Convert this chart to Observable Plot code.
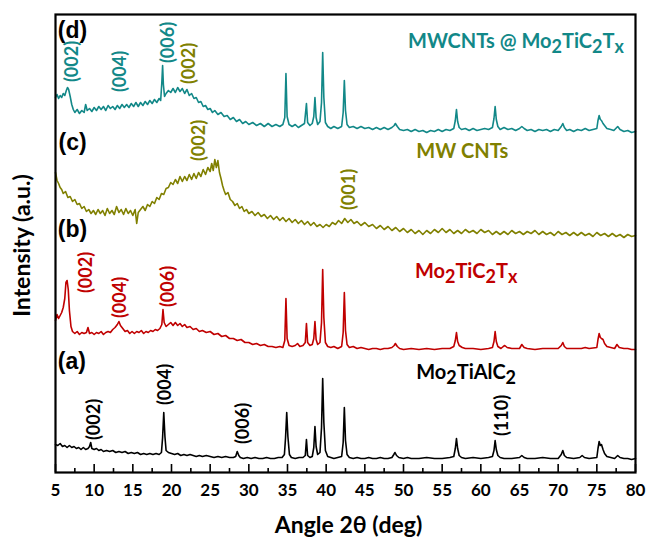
<!DOCTYPE html>
<html><head><meta charset="utf-8">
<script src="https://cdn.jsdelivr.net/npm/d3@7"></script>
<script src="https://cdn.jsdelivr.net/npm/@observablehq/plot@0.6"></script>
<style>body{margin:0;background:#fff} svg{display:block}</style>
</head><body><div id="chart"></div>
<script>
// (a) Mo2TiAlC2 — [2θ, intensity (a.u., stacked)]
const traceA = [[5,28],[5.3,27],[5.6,29],[5.9,26],[6.2,27],[6.5,25],[6.8,27],[7.1,25],[7.4,26],[7.7,24],[8,25],[8.3,23],[8.6,25],[8.9,23],[9.2,24],[9.4,26],[9.55,30],[9.7,24],[10,23],[10.3,24],[10.6,22],[10.9,23],[11.2,21],[11.6,22],[12,21],[12.4,22],[12.8,20],[13.2,21],[13.6,20],[14,21],[14.4,19],[14.8,20],[15.2,19],[15.6,20],[16,18],[16.4,19],[16.8,18],[17.2,19],[17.6,18],[18,19],[18.4,18],[18.7,20],[18.85,35],[19.0,60],[19.15,36],[19.3,22],[19.6,20],[20,19],[20.4,18],[20.8,19],[21.2,17],[21.6,18],[22,17],[22.4,18],[22.8,17],[23.2,16],[23.6,17],[24,16],[24.5,17],[25,16],[25.5,15],[26,16],[26.5,15],[27,16],[27.5,15],[28,15],[28.3,16],[28.5,21],[28.7,17],[28.9,15],[29.3,14],[29.8,15],[30.3,14],[30.8,15],[31.3,14],[31.8,14],[32.3,15],[32.8,14],[33.3,14],[33.8,15],[34.3,15],[34.6,18],[34.75,35],[34.9,60],[35.05,36],[35.25,18],[35.5,15],[36,14],[36.5,15],[37,15],[37.3,17],[37.45,33],[37.6,17],[37.9,15],[38.2,16],[38.4,25],[38.55,46],[38.7,26],[38.9,18],[39.2,20],[39.4,45],[39.55,94],[39.7,50],[39.9,22],[40.2,16],[40.6,15],[41,14],[41.5,15],[42,16],[42.2,30],[42.35,65],[42.5,32],[42.7,18],[43,15],[43.5,14],[44,15],[44.5,14],[45,14],[45.5,15],[46,14],[46.5,14],[47,15],[47.5,14],[48,14],[48.5,15],[48.75,18],[48.9,20],[49.1,17],[49.4,15],[50,14],[50.5,15],[51,14],[52,14],[53,15],[54,14],[55,14],[56,15],[56.5,16],[56.7,24],[56.85,34],[57.0,24],[57.2,17],[57.5,15],[58,14],[59,15],[60,14],[61,15],[61.5,16],[61.7,22],[61.85,32],[62.0,23],[62.2,17],[62.5,15],[63,14],[64,14],[65,15],[65.3,17],[65.6,15],[66,14],[67,14],[68,15],[69,14],[70,14],[70.4,18],[70.6,22],[70.8,17],[71.1,15],[72,14],[72.8,15],[73.1,17],[73.4,15],[74,14],[75,15],[75.15,24],[75.3,31],[75.45,27],[75.6,28],[75.8,23],[76,19],[76.3,16],[76.8,15],[77.3,14],[77.7,17],[78,15],[78.5,14],[79,14],[79.5,13],[80,14]];

// (b) Mo2TiC2Tx
const traceB = [[5,152],[5.2,158],[5.4,154],[5.6,157],[5.8,160],[6.0,165],[6.2,174],[6.35,190],[6.5,192],[6.65,183],[6.8,162],[7.0,146],[7.2,141],[7.5,139],[7.8,141],[8.1,138],[8.4,140],[8.7,139],[9.0,140],[9.2,145],[9.4,139],[9.7,140],[10,138],[10.3,140],[10.6,139],[10.9,141],[11.2,138],[11.5,140],[11.8,141],[12.1,140],[12.4,143],[12.7,145],[13,148],[13.2,151],[13.4,147],[13.7,144],[14,141],[14.3,142],[14.6,139],[14.9,141],[15.2,139],[15.5,141],[15.8,140],[16.1,142],[16.4,139],[16.7,141],[17,140],[17.3,142],[17.6,141],[17.9,143],[18.2,142],[18.5,144],[18.75,148],[18.9,163],[19.05,150],[19.3,146],[19.6,148],[19.9,150],[20.2,147],[20.5,150],[20.8,147],[21.1,149],[21.4,146],[21.7,148],[22,145],[22.4,146],[22.8,143],[23.2,144],[23.6,141],[24,142],[24.5,140],[25,141],[25.5,138],[26,139],[26.5,136],[27,137],[27.5,134],[28,134],[28.5,132],[29,133],[29.5,130],[30,130],[30.5,128],[31,129],[31.5,127],[32,128],[32.5,126],[33,126],[33.5,125],[34,126],[34.4,125],[34.65,132],[34.8,174],[34.95,134],[35.2,127],[35.6,126],[36,127],[36.3,129],[36.6,126],[37,127],[37.3,130],[37.45,149],[37.6,130],[37.9,127],[38.2,128],[38.4,134],[38.55,151],[38.7,133],[38.9,128],[39.2,130],[39.4,150],[39.55,203],[39.7,155],[39.9,130],[40.2,126],[40.6,125],[41,126],[41.5,124],[42,126],[42.2,140],[42.35,180],[42.5,142],[42.7,128],[43,125],[43.5,126],[44,124],[44.5,125],[45,124],[45.5,123],[46,124],[46.5,124],[47,123],[47.5,124],[48,124],[48.5,125],[48.8,127],[48.95,129],[49.2,126],[49.5,124],[50,123],[51,124],[52,123],[53,124],[54,123],[55,124],[56,124],[56.5,126],[56.7,132],[56.85,140],[57.0,131],[57.2,127],[57.6,125],[58,124],[59,124],[60,123],[61,124],[61.5,125],[61.7,131],[61.85,141],[62.0,131],[62.2,126],[62.6,124],[62.9,126],[63.1,127],[63.4,125],[64,124],[65,124],[65.3,128],[65.6,125],[66,124],[67,123],[68,124],[69,124],[70,124],[70.4,127],[70.6,130],[70.8,126],[71.1,124],[72,124],[73,124],[73.5,125],[74,124],[75,125],[75.15,133],[75.3,139],[75.45,135],[75.6,134],[75.8,133],[76,129],[76.3,126],[76.8,125],[77.3,124],[77.6,128],[77.9,125],[78.5,124],[79,124],[79.5,123],[80,123]];

// (c) MW CNTs
const traceC = [[5,300],[5.2,292],[5.4,289],[5.6,285],[5.8,283],[6.0,279],[6.3,281],[6.6,275],[6.9,276],[7.2,271],[7.5,273],[7.8,268],[8.1,269],[8.4,264],[8.7,266],[9.0,261],[9.3,263],[9.6,259],[9.9,262],[10.2,258],[10.5,263],[10.8,259],[11.1,262],[11.4,257],[11.7,264],[12.0,259],[12.3,262],[12.6,258],[12.9,266],[13.2,260],[13.5,263],[13.8,258],[14.1,264],[14.4,259],[14.7,262],[15.0,257],[15.3,263],[15.5,249],[15.7,260],[16.0,263],[16.3,266],[16.6,262],[16.9,268],[17.2,266],[17.5,271],[17.8,269],[18.1,275],[18.4,273],[18.7,279],[19.0,278],[19.3,284],[19.6,285],[19.9,290],[20.2,288],[20.5,293],[20.8,289],[21.1,296],[21.4,291],[21.7,296],[22.0,292],[22.3,298],[22.6,293],[22.9,299],[23.2,294],[23.5,300],[23.8,296],[24.1,303],[24.4,298],[24.7,305],[25.0,301],[25.2,309],[25.4,302],[25.6,313],[25.8,305],[26.0,312],[26.2,300],[26.4,294],[26.6,287],[26.8,282],[27.0,278],[27.3,280],[27.6,273],[27.9,271],[28.2,267],[28.5,269],[28.8,264],[29.1,266],[29.4,261],[29.7,263],[30.0,259],[30.4,261],[30.8,257],[31.2,260],[31.6,256],[32.0,258],[32.4,254],[32.8,257],[33.2,253],[33.6,256],[34.0,252],[34.4,255],[34.8,251],[35.2,254],[35.6,250],[36.0,253],[36.4,249],[36.8,252],[37.2,248],[37.6,251],[38.0,247],[38.4,250],[38.8,246],[39.2,248],[39.6,245],[40.0,248],[40.4,246],[40.8,250],[41.2,248],[41.6,252],[42.0,249],[42.4,254],[42.8,250],[43.2,253],[43.6,249],[44.0,251],[44.5,247],[45.0,250],[45.5,246],[46.0,248],[46.5,244],[47.0,247],[47.5,243],[48.0,246],[48.5,242],[49.0,245],[49.5,241],[50.0,244],[50.5,240],[51.0,243],[51.5,239],[52.0,242],[52.5,238],[53.0,242],[53.5,239],[54.0,243],[54.5,240],[55.0,244],[55.5,240],[56.0,243],[56.5,239],[57.0,242],[57.5,239],[58.0,243],[58.5,240],[59.0,242],[59.5,239],[60.0,243],[60.5,240],[61.0,242],[61.5,238],[62.0,241],[62.5,238],[63.0,241],[63.5,238],[64.0,242],[64.5,239],[65.0,241],[65.5,238],[66.0,241],[66.5,239],[67.0,242],[67.5,238],[68.0,241],[68.5,238],[69.0,240],[69.5,237],[70.0,241],[70.5,238],[71.0,240],[71.5,237],[72.0,240],[72.5,237],[73.0,240],[73.5,237],[74.0,239],[74.5,236],[75.0,240],[75.5,237],[76.0,239],[76.5,236],[77.0,239],[77.5,236],[78.0,238],[78.5,235],[79.0,238],[79.5,236],[80.0,237]];

// (d) MWCNTs @ Mo2TiC2Tx
const traceD = [[5,375],[5.2,378],[5.4,374],[5.6,377],[5.8,375],[6.0,379],[6.2,377],[6.4,382],[6.55,385],[6.7,383],[6.9,376],[7.1,368],[7.3,363],[7.5,360],[7.8,363],[8.1,359],[8.4,362],[8.7,360],[8.9,368],[9.1,362],[9.4,364],[9.7,361],[10.0,365],[10.3,362],[10.6,366],[10.9,363],[11.2,366],[11.5,362],[11.8,367],[12.1,364],[12.4,366],[12.7,363],[13.0,367],[13.3,364],[13.6,368],[13.9,365],[14.2,368],[14.5,365],[14.8,369],[15.1,366],[15.4,370],[15.7,366],[16.0,370],[16.3,367],[16.6,371],[16.9,368],[17.2,372],[17.5,369],[17.8,373],[18.1,370],[18.4,374],[18.6,372],[18.75,390],[18.85,407],[18.95,388],[19.1,376],[19.3,379],[19.6,382],[19.9,380],[20.2,384],[20.5,380],[20.8,385],[21.1,381],[21.4,384],[21.7,379],[22.0,383],[22.3,377],[22.6,379],[22.9,374],[23.2,375],[23.5,370],[23.8,371],[24.1,366],[24.4,367],[24.7,363],[25.0,364],[25.3,360],[25.6,362],[26.0,358],[26.4,360],[26.8,356],[27.2,357],[27.6,353],[28.0,355],[28.4,351],[28.8,353],[29.2,349],[29.6,351],[30.0,348],[30.5,350],[31.0,347],[31.5,349],[32.0,346],[32.5,349],[33.0,346],[33.5,348],[34.0,346],[34.4,348],[34.65,355],[34.8,399],[34.95,356],[35.2,348],[35.6,346],[36.0,348],[36.4,345],[36.8,347],[37.2,349],[37.45,369],[37.6,350],[37.9,347],[38.2,349],[38.4,356],[38.55,375],[38.7,355],[38.9,348],[39.2,351],[39.4,370],[39.55,420],[39.7,375],[39.9,350],[40.2,346],[40.6,344],[41.0,346],[41.5,344],[42.0,346],[42.2,360],[42.35,392],[42.5,362],[42.7,348],[43.0,345],[43.5,346],[44.0,344],[44.5,346],[45.0,344],[45.5,345],[46.0,343],[46.5,345],[47.0,343],[47.5,345],[48.0,343],[48.5,345],[48.8,347],[48.95,349],[49.2,346],[49.5,343],[50.0,342],[50.5,343],[51.0,341],[51.5,343],[52.0,341],[52.5,342],[53.0,340],[53.5,342],[54.0,341],[54.5,343],[55.0,341],[55.5,343],[56.0,342],[56.5,344],[56.7,352],[56.85,363],[57.0,351],[57.2,345],[57.5,343],[58.0,344],[58.5,342],[59.0,344],[59.5,342],[60.0,343],[60.5,344],[61.0,343],[61.5,345],[61.7,354],[61.85,366],[62.0,353],[62.2,346],[62.5,343],[63.0,345],[63.5,343],[64.0,344],[64.5,342],[65.0,344],[65.3,346],[65.6,344],[66.0,342],[66.5,343],[67.0,341],[67.5,343],[68.0,342],[68.5,343],[69.0,341],[69.5,343],[70.0,342],[70.4,346],[70.6,349],[70.8,345],[71.1,342],[71.5,343],[72.0,341],[72.5,343],[73.0,342],[73.5,344],[74.0,342],[74.5,343],[75.0,344],[75.15,352],[75.3,357],[75.45,353],[75.6,352],[75.8,349],[76.0,347],[76.3,344],[76.8,343],[77.2,342],[77.7,346],[78.0,343],[78.5,341],[79.0,342],[79.5,340],[80.0,341]];

const traces = [traceA, traceB, traceC, traceD];
const seriesColors = ["#000000", "#c00000", "#808000", "#128888"];

// panel letters
const panelLetters = ["(a)", "(b)", "(c)", "(d)"];
const panelX = [5.3, 5.3, 5.4, 5.3];
const panelY = [111, 243, 330, 442];

// sample names ("_" marks a subscript character)
const sampleNames = ["Mo_2TiAlC_2", "Mo_2TiC_2T_x", "MW CNTs", "MWCNTs @ Mo_2TiC_2T_x"];
const nameX = [58.1, 58.1, 57.6, 78.5];
const nameY = [100, 201, 321, 431];
const nameAnchor = ["middle", "middle", "middle", "end"];

// peak (hkl) labels
const peakText  = ["(002)", "(004)", "(006)", "(110)", "(002)", "(004)", "(006)", "(002)", "(001)", "(002)", "(004)", "(006)", "(002)"];
const peakX     = [10.0, 19.2, 29.3, 62.8, 9.0, 13.4, 19.6, 23.6, 43.0, 7.1, 13.4, 19.6, 22.3];
const peakY     = [53, 88, 49, 57, 200, 175, 186, 332, 283, 411, 401, 430, 409];
const peakColor = ["#000000", "#000000", "#000000", "#000000", "#c00000", "#c00000", "#c00000", "#808000", "#808000", "#128888", "#128888", "#128888", "#808000"];

const xLabels = d3.range(5, 81, 5);
const xMinor = d3.range(7.5, 80, 5);

const idx = (arr) => arr.map((_, i) => i);

const chart = Plot.plot({
  width: 648, height: 542,
  marginLeft: 55, marginRight: 13, marginTop: 14, marginBottom: 70,
  style: {fontFamily: "Lato, sans-serif", fontWeight: "bold", background: "white", color: "black"},
  x: {domain: [5, 80]},
  y: {domain: [0, 458], axis: null},
  color: {type: "identity"},
  marks: [
    ...traces.map((t, i) => Plot.line(t, {x: d => d[0], y: d => d[1], stroke: seriesColors[i], strokeWidth: 1.6, strokeLinejoin: "round"})),
    Plot.ruleX(xLabels, {x: d => d, y1: 0, y2: 8, stroke: "black", strokeWidth: 1.6}),
    Plot.ruleX(xMinor, {x: d => d, y1: 0, y2: 4, stroke: "black", strokeWidth: 1.6}),
    Plot.frame({stroke: "black", strokeWidth: 2.2}),
    Plot.axisX({ticks: xLabels, tickSize: 0, tickPadding: 11, fontSize: 17, fontWeight: "bold", label: null, tickFormat: d => String(d)}),
    Plot.text(["Angle 2θ (deg)"], {frameAnchor: "bottom", textAnchor: "middle", lineAnchor: "middle", dy: 53, dx: 3, fontSize: 23, fontWeight: "bold"}),
    Plot.text(["Intensity (a.u.)"], {frameAnchor: "left", textAnchor: "middle", lineAnchor: "middle", rotate: -90, dx: -33, dy: 2, fontSize: 23, fontWeight: "bold"}),
    Plot.text(idx(panelLetters), {x: i => panelX[i], y: i => panelY[i], text: i => panelLetters[i], textAnchor: "start", fontSize: 23, fontWeight: "bold", fontFamily: "Liberation Sans, Arial, sans-serif", fill: "black"}),
    Plot.text(idx(sampleNames), {x: i => nameX[i], y: i => nameY[i], text: i => sampleNames[i], fill: i => seriesColors[i], fontSize: 20, fontWeight: "bold"}),
    Plot.text(idx(peakText), {x: i => peakX[i], y: i => peakY[i], text: i => peakText[i], fill: i => peakColor[i], rotate: -90, fontSize: 18, fontWeight: "bold"})
  ]
});

document.getElementById("chart").appendChild(chart);

function subscriptify(el) {
  const s = el.textContent;
  if (!s.includes("_")) return;
  const parts = [];
  let buf = "";
  for (let i = 0; i < s.length; i++) {
    if (s[i] === "_") { if (buf) parts.push([buf, false]); buf = ""; parts.push([s[i + 1], true]); i++; }
    else buf += s[i];
  }
  if (buf) parts.push([buf, false]);
  el.textContent = "";
  let shifted = false;
  for (const [txt, sub] of parts) {
    const ts = document.createElementNS("http://www.w3.org/2000/svg", "tspan");
    ts.textContent = txt;
    if (sub && !shifted) { ts.setAttribute("dy", "5"); shifted = true; }
    if (!sub && shifted) { ts.setAttribute("dy", "-5"); shifted = false; }
    if (sub) ts.setAttribute("font-size", "18");
    el.appendChild(ts);
  }
}
// per-name text anchor, then subscripts
d3.select(chart).selectAll("text").each(function () {
  const k = sampleNames.indexOf(this.textContent);
  if (k >= 0) this.setAttribute("text-anchor", nameAnchor[k]);
  subscriptify(this);
});
</script>
</body></html>
